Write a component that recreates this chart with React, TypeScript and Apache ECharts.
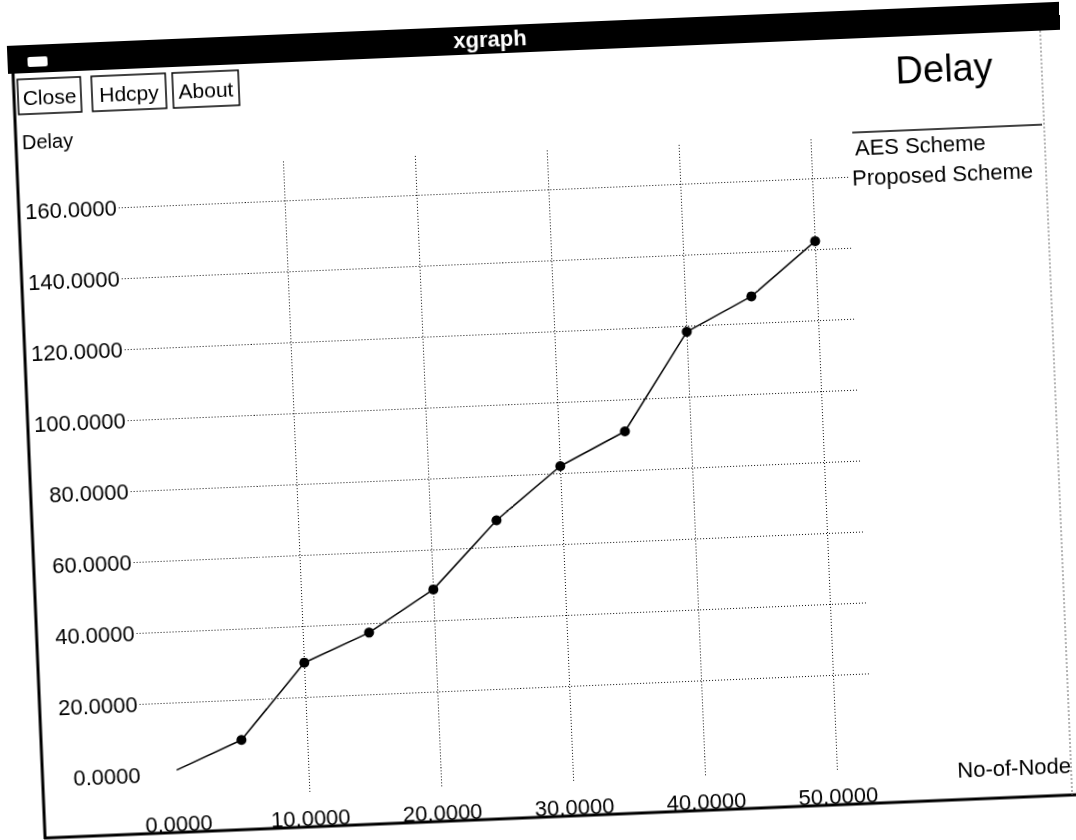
import React, { useEffect, useRef } from "react";
import * as echarts from "echarts";

const nodes = [0, 5, 10, 15, 20, 25, 30, 35, 40, 45, 50];
const aesDelay = [1, 8.7, 29.7, 37.4, 48.8, 67.5, 82, 91, 118.3, 127.5, 142.3];
const xTickLabels = [0, 10, 20, 30, 40, 50];
const xGridValues = [10, 20, 30, 40, 50];
const yTickLabels = [0, 20, 40, 60, 80, 100, 120, 140, 160];
const yGridValues = [20, 40, 60, 80, 100, 120, 140, 160];
const legendNames = ["AES Scheme", "Proposed Scheme"];
const buttons = ["Close", "Hdcpy", "About"];

const FONT = "Liberation Sans, Arial, sans-serif";

export default function App() {
  const ref = useRef<HTMLDivElement>(null);
  useEffect(() => {
    if (!ref.current) return;
    const chart = echarts.init(ref.current, null, { renderer: "svg" });
    const btnBoxes = [
      { x: 32, w: 63 },
      { x: 106, w: 74 },
      { x: 187, w: 66 },
    ];
    const graphic: any[] = [
      // title bar
      { type: "rect", shape: { x: 23, y: 24, width: 1100, height: 28 }, style: { fill: "#000" }, z: 10 },
      { type: "rect", shape: { x: 43, y: 36, width: 20, height: 10, r: 2 }, style: { fill: "#fff" }, z: 11 },
      {
        type: "text", x: 506, y: 37, z: 11,
        style: { text: "xgraph", fill: "#fff", font: `bold 22px ${FONT}`, textAlign: "center", textVerticalAlign: "middle" },
      },
      // window borders
      { type: "line", shape: { x1: 28, y1: 50, x2: 28, y2: 818 }, style: { stroke: "#000", lineWidth: 3 }, z: 10 },
      { type: "line", shape: { x1: 27, y1: 817, x2: 1060, y2: 817 }, style: { stroke: "#000", lineWidth: 3 }, z: 10 },
      { type: "line", shape: { x1: 1056, y1: 52, x2: 1056, y2: 817 }, style: { stroke: "#666", lineWidth: 1, lineDash: [2, 2] }, z: 10 },
      // title
      {
        type: "text", x: 1007, y: 86, z: 10,
        style: { text: "Delay", fill: "#000", font: `38px ${FONT}`, textAlign: "right", textVerticalAlign: "middle" },
      },
      // axis names
      {
        type: "text", x: 34, y: 121, z: 10,
        style: { text: "Delay", fill: "#000", font: `20px ${FONT}`, textAlign: "left", textVerticalAlign: "middle" },
      },
      {
        type: "text", x: 1056, y: 787, z: 10,
        style: { text: "No-of-Node", fill: "#000", font: `22px ${FONT}`, textAlign: "right", textVerticalAlign: "middle" },
      },
      // legend
      { type: "line", shape: { x1: 864, y1: 146, x2: 1054, y2: 146 }, style: { stroke: "#000", lineWidth: 1.5 }, z: 10 },
      {
        type: "text", x: 866, y: 161, z: 10,
        style: { text: legendNames[0], fill: "#000", font: `22px ${FONT}`, textAlign: "left", textVerticalAlign: "middle" },
      },
      {
        type: "text", x: 862, y: 191, z: 10,
        style: { text: legendNames[1], fill: "#000", font: `22px ${FONT}`, textAlign: "left", textVerticalAlign: "middle" },
      },
    ];
    buttons.forEach((b, i) => {
      const bx = btnBoxes[i];
      graphic.push({
        type: "rect", shape: { x: bx.x, y: 58, width: bx.w, height: 35 }, z: 10,
        style: { fill: "#fff", stroke: "#000", lineWidth: 1.5 },
      });
      graphic.push({
        type: "text", x: bx.x + bx.w / 2, y: 76, z: 11,
        style: { text: b, fill: "#000", font: `21px ${FONT}`, textAlign: "center", textVerticalAlign: "middle" },
      });
    });

    const gridStyle = { color: "#111", width: 1, type: [1, 2] as any };
    chart.setOption({
      animation: false,
      backgroundColor: "#fff",
      grid: { left: 128, top: 151, width: 732, height: 632, containLabel: false },
      xAxis: {
        type: "value",
        min: -2.6,
        max: 52.85,
        axisLine: { show: false },
        axisTick: { show: false, customValues: xGridValues },
        axisLabel: {
          customValues: xTickLabels,
          formatter: (v: number) => v.toFixed(4),
          color: "#000",
          fontFamily: FONT,
          fontSize: 22,
          margin: 14,
        },
        splitLine: { show: true, lineStyle: gridStyle },
      },
      yAxis: {
        type: "value",
        min: -7,
        max: 171,
        axisLine: { show: false },
        axisTick: { show: false, customValues: yGridValues },
        axisLabel: {
          customValues: yTickLabels,
          formatter: (v: number) => v.toFixed(4),
          color: "#000",
          fontFamily: FONT,
          fontSize: 22,
          margin: 2,
        },
        splitLine: { show: true, lineStyle: gridStyle },
      },
      graphic,
      series: [
        {
          name: legendNames[0],
          type: "line",
          data: nodes.map((n, i) =>
            i === 0 ? { value: [n, aesDelay[i]], symbol: "none" } : [n, aesDelay[i]]
          ),
          symbol: "circle",
          symbolSize: 10,
          itemStyle: { color: "#000" },
          lineStyle: { color: "#000", width: 1.5 },
        },
      ],
    });
    return () => chart.dispose();
  }, []);

  return (
    <div
      style={{
        position: "fixed",
        left: 0,
        top: 0,
        width: 1076,
        height: 840,
        background: "#fff",
        transform: "rotate(-2.4deg)",
        transformOrigin: "538px 420px",
      }}
    >
      <div ref={ref} style={{ width: 1076, height: 840 }} />
    </div>
  );
}
